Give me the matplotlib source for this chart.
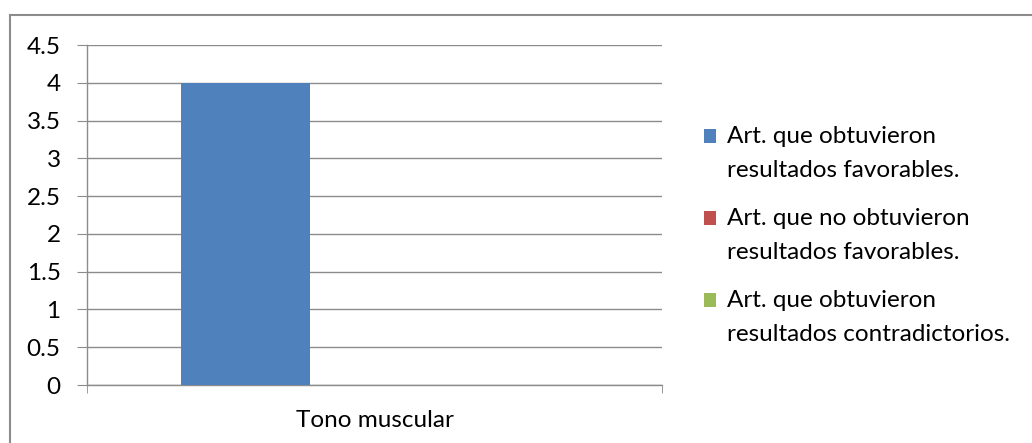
import matplotlib.pyplot as plt
from matplotlib.lines import Line2D
from matplotlib.patches import Rectangle
from matplotlib.container import BarContainer
from matplotlib.legend_handler import HandlerPatch
import numpy as np

categories = ['Tono muscular']
series_names = ['Art. que obtuvieron\nresultados favorables.',
                'Art. que no obtuvieron\nresultados favorables.',
                'Art. que obtuvieron\nresultados contradictorios.']
series_values = [[4], [0], [0]]
colors = ['#4f81bd', '#c0504d', '#9bbb59']
yticks = [0, 0.5, 1, 1.5, 2, 2.5, 3, 3.5, 4, 4.5]
ytick_labels = ['0', '0.5', '1', '1.5', '2', '2.5', '3', '3.5', '4', '4.5']

FS = 17.5
LSP = 1.78

plt.rcParams['font.family'] = ['Lato', 'DejaVu Sans']

fig = plt.figure(figsize=(10.32, 4.43), dpi=100)
ax = fig.add_axes([0.0843, 0.1309, 0.5572, 0.7675])

x = np.arange(len(categories))
width = 0.2243
for k in range(3):
    ax.bar(x + (k - 1) * width, series_values[k], width, color=colors[k],
           label=series_names[k], zorder=3)

ax.set_xlim(-0.5, 0.5)
ax.set_ylim(0, 4.5)
ax.set_yticks(yticks)
ax.set_yticklabels(ytick_labels)
ax.yaxis.grid(True, color='#8c8c8c', linewidth=1.0, zorder=0)

ax.set_xticks(x)
ax.set_xticklabels(categories)
ax.set_xticks([-0.5, 0.5], minor=True)
ax.tick_params(axis='x', which='major', length=0, pad=18, labelsize=FS)
ax.tick_params(axis='x', which='minor', length=6, color='#8c8c8c', direction='out')
ax.tick_params(axis='y', length=7, color='#8c8c8c', labelsize=FS, pad=12)

for s in ['top', 'right']:
    ax.spines[s].set_visible(False)
for s in ['left', 'bottom']:
    ax.spines[s].set_color('#8c8c8c')
    ax.spines[s].set_linewidth(1.0)


# legend square next to the first line of each two-line label
def top_square(legend, orig_handle, xdescent, ydescent, width, height, fontsize):
    shift = fontsize * 0.70
    return Rectangle((-xdescent, -ydescent + shift), width, height)


def first_bar(handle, orig):
    handle.update_from(orig.patches[0])


leg = ax.legend(loc='center left', bbox_to_anchor=(1.052, 0.44), frameon=False,
                fontsize=FS, handlelength=0.5, handleheight=0.5,
                handletextpad=0.45, labelspacing=1.1, borderpad=0,
                handler_map={BarContainer: HandlerPatch(patch_func=top_square,
                                                        update_func=first_bar)})
for t in leg.get_texts():
    t.set_linespacing(LSP)

# outer chart border (top and left visible)
fig.add_artist(Line2D([10 / 1032, 1.0], [1 - 15 / 443, 1 - 15 / 443],
                      color='#8c8c8c', linewidth=1.5))
fig.add_artist(Line2D([10 / 1032, 10 / 1032], [0, 1 - 15 / 443],
                      color='#8c8c8c', linewidth=1.5))

plt.savefig('out.png', dpi=100)
plt.close()
